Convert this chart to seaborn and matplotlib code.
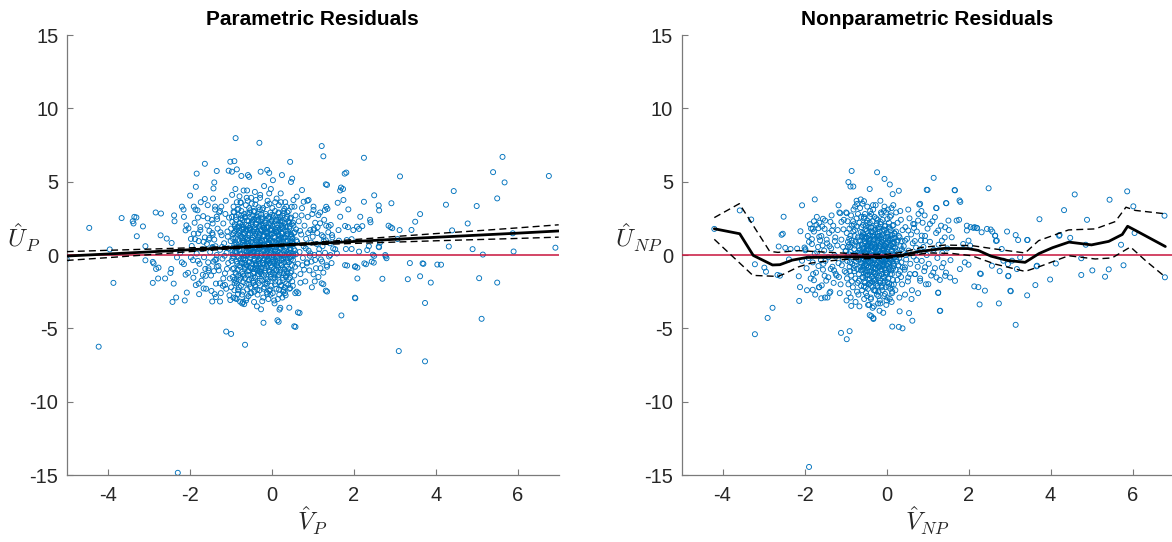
import matplotlib
matplotlib.use("Agg")
import matplotlib.pyplot as plt
import numpy as np
import pandas as pd
import seaborn as sns

sns.set_theme(style="white")
plt.rcParams["font.family"] = ["Liberation Sans", "DejaVu Sans"]
plt.rcParams["mathtext.fontset"] = "cm"
plt.rcParams["axes.unicode_minus"] = False

# ---------------- data: Parametric residuals (V_P, U_P) ----------------
p1_outer = [
    (-4.45, 1.85), (-5.0, -0.28), (-4.22, -6.25), (-3.95, 0.38), (-3.86, -1.9), (-3.66, 2.52), (-3.37, 2.15),
    (-3.35, 2.6), (-3.3, 2.56), (-3.39, 2.3), (-3.29, 1.28), (-3.14, 1.95), (-3.08, 0.6), (-3.08, -0.36),
    (-2.9, -0.47), (-2.88, -0.57), (-2.82, -0.95), (-2.76, -0.86), (-2.9, -1.9), (-2.83, 2.9), (-2.7, 2.83),
    (-2.71, 1.34), (-2.77, -1.6), (-2.6, -1.6), (-2.56, 1.12), (-2.44, 0.82), (-2.45, -0.95), (-2.47, -1.22),
    (-2.42, -3.2), (-2.33, -2.9), (-2.39, -1.95), (-2.31, -0.16), (-2.23, 0.15), (-2.38, 2.7), (-2.37, 2.3),
    (-2.12, -3.1), (-2.07, -2.56), (-2.19, 3.3), (-2.15, 3.1), (-2.14, 2.6), (-2.1, 1.68), (-2.1, -1.34),
    (-2.04, -1.22), (-2.19, -0.5), (-2.14, -0.62), (-1.99, 4.05), (-1.85, 4.65), (-1.83, 5.55), (-1.9, 3.3),
    (-1.86, 3.1), (-1.74, 1.7), (-1.79, 1.47), (-1.87, 1.08), (-2.03, 1.82), (-2.08, 2.02), (-1.97, -0.16),
    (-1.8, -0.4), (-1.78, -1.95), (-1.66, -2.28), (-1.77, -2.67), (-1.63, 6.22), (-1.63, 3.82), (-1.54, -1.05),
    (-1.61, -1.42), (-1.45, -3.17), (-1.39, -2.67), (-1.34, 5.73), (-1.4, 4.95), (-1.42, 4.54), (-1.38, 3.3),
    (-1.56, 2.5), (-1.34, 2.62), (-1.44, 2.15), (-1.26, 3.0), (-1.52, 1.16), (-1.44, 1.39), (-1.45, 0.48),
    (-1.38, -0.34), (-1.34, -0.8), (-1.26, -1.93), (-1.18, -1.6), (-1.14, -2.04), (-1.26, -3.17), (-1.36, -2.87),
    (-1.11, -5.22), (-0.99, -5.38), (-1.01, 6.36), (-0.91, 6.4), (-0.88, 7.97), (-0.97, 5.68), (-1.05, 5.75),
    (-0.65, -6.12), (-0.85, 5.84), (-0.74, 5.39), (-0.91, -2.4), (-0.77, -3.18), (-0.67, -3.35), (-1.01, -3.07),
    (-0.89, -2.95), (-0.58, 5.45), (-0.55, 5.33), (-0.3, 7.65), (-0.27, 5.68), (-0.2, -4.62), (-0.11, 5.8),
    (-0.06, 5.6), (0.03, 5.1), (0.17, -4.55), (0.25, 5.45), (0.45, 6.35), (0.47, 4.98), (0.5, 5.21),
    (0.58, -4.9), (0.68, -3.95), (0.19, -3.72), (0.21, -3.6), (-2.29, -14.85),
    (1.22, 7.43), (1.26, 6.73), (1.35, 4.78), (1.26, -1.99), (1.35, -2.49), (1.61, 3.56), (1.67, 4.4),
    (1.74, 4.5), (1.78, 5.55), (1.82, 5.62), (1.75, 3.75), (1.7, -4.12), (2.04, -2.95), (2.09, -1.6),
    (2.25, 6.63), (2.25, 3.63), (2.5, 4.07), (2.61, 3.38), (2.62, 3.04), (2.7, -1.62), (2.9, 1.9),
    (2.92, 3.53), (3.13, 5.36), (3.1, -6.55), (3.32, -1.65), (3.37, -0.55), (3.41, 1.71), (3.5, 2.27),
    (3.62, 2.79), (3.62, -1.45), (3.7, -0.6), (3.74, -3.27), (3.74, -7.25), (3.88, -1.88), (4.04, -0.65),
    (4.13, -0.66), (4.25, 3.43), (4.32, 0.58), (4.4, 1.68), (4.44, 4.36), (4.78, 2.15), (4.9, 0.4),
    (5.0, 3.34), (5.06, -1.58), (5.12, -4.35), (5.15, 0.03), (5.4, 5.65), (5.5, 3.86), (5.5, -1.88),
    (5.63, 6.69), (5.68, 4.95), (5.88, 1.48), (5.9, 0.24), (6.76, 5.39), (6.92, 0.5),
    (1.95, 0.41), (2.13, 1.78), (2.21, 1.97), (2.3, -0.63), (2.37, 0.6), (2.41, 2.23), (2.49, -0.52),
    (2.5, -0.06), (2.04, -0.77), (2.09, -0.86), (1.84, -0.72), (1.81, 0.41), (1.86, 1.9), (1.95, 1.08),
    (2.62, 0.53), (2.64, 0.84), (2.78, -0.1), (2.8, -0.22), (2.94, 1.83), (1.32, 4.82), (1.69, 4.6),
    (1.35, -0.8), (1.59, 0.11), (1.79, -0.69), (2.03, -0.8), (2.26, -0.57), (2.44, -0.45), (2.77, 0.0),
    (2.47, 0.02), (2.13, 0.23), (2.33, 0.34), (2.61, 0.57), (2.85, 2.0), (3.07, 1.09), (3.12, 1.7),
    (2.4, 2.4), (2.16, 2.61), (2.08, 1.93), (1.87, 3.11), (1.79, 1.98), (1.99, 1.7), (1.83, 1.02),
    (1.64, 0.98), (1.55, 0.39), (1.43, 0.0), (1.22, -1.93), (1.32, -2.43), (0.7, -1.89), (0.64, -3.91),
    (0.55, -4.86), (0.14, -4.45), (0.43, -3.59), (0.29, -2.39), (0.61, -2.5), (1.02, -1.32), (1.06, -0.34),
    (0.86, -0.57), (0.94, 0.11), (1.02, 1.7), (1.18, 2.16), (1.3, 3.07), (1.14, 2.72), (0.74, 4.43),
    (0.78, 3.63), (0.9, 3.75), (1.02, 3.07), (1.39, 1.93), (1.47, 1.36), (1.26, 1.25), (1.63, 1.7),
    (1.33, 3.29), (0.61, 3.98), (0.53, 3.75), (0.49, 3.29), (1.67, 2.61), (3.68, -0.57), (2.03, -2.91),
]

p1_core = [
    (-1.95, 0.62), (-1.92, -0.35), (-1.9, 1.45), (-1.88, 2.2), (-1.86, -1.1), (-1.83, 0.1), (-1.81, 3.05),
    (-1.78, 0.95), (-1.76, -0.6), (-1.74, 1.9), (-1.71, -1.75), (-1.69, 0.4), (-1.67, 2.65), (-1.65, -0.15),
    (-1.63, 1.2), (-1.6, -2.3), (-1.58, 0.75), (-1.56, 3.4), (-1.54, -0.9), (-1.52, 1.65), (-1.5, 0.2),
    (-1.48, -1.4), (-1.46, 2.4), (-1.44, 0.55), (-1.42, -0.45), (-1.4, 1.05), (-1.38, 3.1), (-1.36, -1.95),
    (-1.34, 0.0), (-1.32, 1.8), (-1.3, -0.75), (-1.28, 2.9), (-1.26, 0.35), (-1.24, -2.6), (-1.22, 1.35),
    (-1.2, -0.25), (-1.18, 2.15), (-1.16, 0.8), (-1.14, -1.25), (-1.12, 3.7), (-1.1, 0.15), (-1.08, 1.6),
    (-1.06, -0.55), (-1.04, 2.55), (-1.02, -1.6), (-1.0, 0.95), (-1.97, 1.1), (-1.85, -2.05), (-1.73, 3.6),
    (-1.62, -0.95), (-1.57, 2.0), (-1.47, -2.45), (-1.43, 3.85), (-1.37, 0.6), (-1.29, -1.05), (-1.25, 1.55),
    (-1.19, -2.1), (-1.13, 2.8), (-1.09, -0.95), (-1.05, 0.45), (-1.91, -1.55), (-1.8, 2.55), (-1.68, -1.35),
    (-1.53, 1.05), (-1.41, -1.1), (-1.33, 2.45), (-1.21, 0.55), (-1.11, -2.3), (-1.07, 1.25), (-1.66, 0.9),
    (-1.55, -0.5), (-1.45, 1.5), (-1.35, -0.3), (-1.23, 3.3), (-1.15, -0.05), (-1.03, -2.75),
    (-0.99, 1.8), (-0.98, -0.4), (-0.97, 2.6), (-0.96, 0.3), (-0.95, -1.5), (-0.94, 1.1), (-0.93, 3.3),
    (-0.92, -0.9), (-0.91, 0.7), (-0.9, 2.1), (-0.985, -2.2), (-0.965, 4.1), (-0.945, 0.05), (-0.925, 1.5),
    (-0.905, -1.9), (-0.955, -0.2), (-0.915, 2.9), (-0.935, -2.9),
    (-0.89, 0.9), (-0.88, -1.2), (-0.87, 2.4), (-0.86, 0.2), (-0.85, 3.6), (-0.84, -0.6), (-0.83, 1.4),
    (-0.82, -2.4), (-0.81, 0.55), (-0.8, 1.95), (-0.885, 4.5), (-0.865, -1.8), (-0.845, 1.0), (-0.825, -0.1),
    (-0.805, 2.75), (-0.875, 0.45), (-0.855, -3.0), (-0.835, 3.1), (-0.815, -1.4), (-0.895, 1.6),
    (-0.79, 0.35), (-0.78, 2.2), (-0.77, -0.8), (-0.76, 1.3), (-0.75, -2.1), (-0.74, 3.0), (-0.73, 0.1),
    (-0.72, 1.75), (-0.71, -1.3), (-0.7, 0.8), (-0.785, 4.0), (-0.765, -0.3), (-0.745, 2.5), (-0.725, -2.7),
    (-0.705, 1.15), (-0.795, -1.7), (-0.775, 0.6), (-0.755, 3.55), (-0.735, -0.55), (-0.715, 2.05),
    (-0.79, 1.5), (-0.72, -3.3),
    (-0.69, 1.9), (-0.68, -0.2), (-0.67, 2.8), (-0.66, 0.65), (-0.65, -1.6), (-0.64, 1.2), (-0.63, 3.4),
    (-0.62, -0.7), (-0.61, 0.25), (-0.6, 2.35), (-0.695, -2.5), (-0.675, 0.95), (-0.655, -0.95), (-0.635, 1.65),
    (-0.615, -1.95), (-0.685, 4.4), (-0.665, 0.0), (-0.645, 2.6), (-0.625, -3.1), (-0.605, 0.5), (-0.64, -0.35),
    (-0.69, 1.4), (-0.61, 3.9),
    (-0.59, 0.75), (-0.58, -1.1), (-0.57, 2.0), (-0.56, 0.3), (-0.55, 3.2), (-0.54, -0.45), (-0.53, 1.45),
    (-0.52, -2.2), (-0.51, 0.9), (-0.5, 2.5), (-0.595, -0.05), (-0.575, 1.15), (-0.555, -1.7), (-0.535, 2.9),
    (-0.515, 0.15), (-0.585, 3.7), (-0.565, -2.8), (-0.545, 0.6), (-0.525, 1.85), (-0.505, -0.85), (-0.58, 1.7),
    (-0.52, -1.35), (-0.56, 2.3), (-0.5, 0.4),
    (-0.49, 1.05), (-0.48, -0.6), (-0.47, 2.25), (-0.46, 0.2), (-0.45, -1.9), (-0.44, 1.6), (-0.43, 3.0),
    (-0.42, -0.25), (-0.41, 0.7), (-0.4, 1.9), (-0.495, -2.6), (-0.475, 0.45), (-0.455, 2.7), (-0.435, -1.15),
    (-0.415, 1.3), (-0.485, 3.5), (-0.465, -0.95), (-0.445, 0.05), (-0.425, 2.45), (-0.405, -1.55), (-0.47, 1.35),
    (-0.43, -3.2), (-0.41, 4.3), (-0.46, 0.85), (-0.44, -0.4),
    (-0.39, 0.55), (-0.38, 1.75), (-0.37, -0.75), (-0.36, 2.6), (-0.35, 0.15), (-0.34, -1.45), (-0.33, 1.2),
    (-0.32, 3.25), (-0.31, -0.3), (-0.3, 0.95), (-0.395, -2.15), (-0.375, 2.1), (-0.355, -0.05), (-0.335, 1.55),
    (-0.315, -1.9), (-0.385, 3.75), (-0.365, 0.4), (-0.345, -2.7), (-0.325, 2.35), (-0.305, -0.6), (-0.38, 1.0),
    (-0.34, 0.65), (-0.3, -1.1), (-0.36, -3.5), (-0.32, 2.8), (-0.33, -0.9),
    (-0.29, 1.45), (-0.28, -0.2), (-0.27, 2.3), (-0.26, 0.6), (-0.25, -1.3), (-0.24, 1.0), (-0.23, 3.1),
    (-0.22, -0.55), (-0.21, 0.3), (-0.2, 1.85), (-0.295, -2.4), (-0.275, 0.85), (-0.255, 2.75), (-0.235, -1.75),
    (-0.215, 1.3), (-0.285, 3.9), (-0.265, -0.85), (-0.245, 0.1), (-0.225, 2.05), (-0.205, -2.9), (-0.28, 0.45),
    (-0.24, 1.65), (-0.2, -0.35), (-0.26, -3.7), (-0.22, 2.55),
    (-0.19, 0.7), (-0.18, -0.9), (-0.17, 1.6), (-0.16, 0.05), (-0.15, 2.4), (-0.14, -1.6), (-0.13, 1.1),
    (-0.12, 3.4), (-0.11, -0.4), (-0.1, 0.4), (-0.195, 2.0), (-0.175, -2.2), (-0.155, 0.95), (-0.135, -0.15),
    (-0.115, 1.85), (-0.185, 4.7), (-0.165, -1.2), (-0.145, 2.8), (-0.125, 0.25), (-0.105, -2.65), (-0.18, 1.35),
    (-0.14, 0.6), (-0.1, 1.5), (-0.16, -0.6), (-0.12, -1.95),
    (-0.09, 1.25), (-0.08, -0.35), (-0.07, 2.15), (-0.06, 0.5), (-0.05, -1.05), (-0.04, 1.7), (-0.03, 2.9),
    (-0.02, -0.7), (-0.01, 0.15), (0.0, 1.4), (-0.095, -1.8), (-0.075, 0.8), (-0.055, 3.5), (-0.035, -2.35),
    (-0.015, 0.95), (-0.085, 2.5), (-0.065, -0.1), (-0.045, 1.0), (-0.025, -1.5), (-0.005, 2.3), (-0.08, -3.0),
    (-0.04, 0.35), (-0.06, 4.2), (-0.02, 1.8),
    (0.01, 0.6), (0.02, -1.2), (0.03, 1.95), (0.04, 0.0), (0.05, 2.7), (0.06, -0.55), (0.07, 1.2),
    (0.08, -2.0), (0.09, 0.35), (0.1, 1.6), (0.015, 3.2), (0.035, -0.3), (0.055, 0.9), (0.075, -1.55),
    (0.095, 2.3), (0.025, -2.6), (0.045, 1.5), (0.065, -0.95), (0.085, 3.6), (0.005, -0.1), (0.06, 0.55),
    (0.03, 2.55), (0.09, -0.45), (0.07, -3.3),
    (0.11, 0.8), (0.12, -0.6), (0.13, 2.05), (0.14, 0.25), (0.15, -1.4), (0.16, 1.35), (0.17, 2.9),
    (0.18, -0.2), (0.19, 0.55), (0.2, 1.75), (0.115, -2.3), (0.135, 0.95), (0.155, -0.85), (0.175, 3.4),
    (0.195, -1.85), (0.125, 1.6), (0.145, -0.05), (0.165, 2.4), (0.185, -2.7), (0.105, 0.1), (0.18, 1.1),
    (0.12, -1.05), (0.2, 2.6),
    (0.21, 0.45), (0.22, -1.0), (0.23, 1.5), (0.24, -0.25), (0.25, 2.3), (0.26, 0.9), (0.27, -1.7),
    (0.28, 1.1), (0.29, 3.0), (0.3, -0.5), (0.215, 2.05), (0.235, -2.1), (0.255, 0.1), (0.275, 1.85),
    (0.295, -1.25), (0.225, 3.6), (0.245, -0.7), (0.265, 0.65), (0.285, -2.5), (0.205, 1.3), (0.26, 2.7),
    (0.3, 0.3),
    (0.31, 1.2), (0.32, -0.15), (0.33, 2.2), (0.34, 0.5), (0.35, -1.5), (0.36, 1.65), (0.37, -0.75),
    (0.38, 2.6), (0.39, 0.2), (0.4, -2.05), (0.315, -1.0), (0.335, 0.95), (0.355, 3.3), (0.375, -0.35),
    (0.395, 1.45), (0.325, -2.6), (0.345, 1.9), (0.365, 0.05), (0.385, -1.25), (0.305, 2.85),
    (0.41, 0.7), (0.42, -0.5), (0.43, 1.8), (0.44, 0.15), (0.45, 2.5), (0.46, -1.2), (0.47, 1.0),
    (0.48, -0.1), (0.49, 2.1), (0.5, -1.8), (0.415, 3.0), (0.435, -2.3), (0.455, 0.45), (0.475, 1.4),
    (0.495, -0.7), (0.425, 2.2), (0.465, -0.3), (0.485, 0.85), (0.445, -1.55),
    (0.51, 1.15), (0.52, -0.35), (0.53, 2.0), (0.54, 0.4), (0.55, -1.4), (0.56, 1.55), (0.57, -0.8),
    (0.58, 2.7), (0.59, 0.05), (0.6, 1.0), (0.515, -2.1), (0.535, 0.75), (0.555, 3.3), (0.575, -2.6),
    (0.595, 1.75), (0.525, -0.05), (0.565, 0.3),
    (0.62, 0.9), (0.64, -0.6), (0.66, 2.3), (0.68, 0.2), (0.7, -1.3), (0.72, 1.4), (0.74, 3.2),
    (0.76, -0.2), (0.78, 0.6), (0.8, 2.0), (0.82, -1.8), (0.84, 1.1), (0.86, -0.5), (0.88, 2.6),
    (0.9, 0.3), (0.92, -1.05), (0.94, 1.7), (0.96, 0.85), (0.98, -2.2), (1.0, 1.25), (1.02, 3.3),
    (1.04, 0.0), (1.06, 2.2), (1.08, -0.9), (1.1, 0.75), (1.12, 1.9), (1.14, -1.5), (1.16, 0.4),
    (1.18, 2.9), (1.2, -0.3), (1.22, 1.35), (1.24, 0.6), (1.26, -1.2), (1.28, 2.4), (1.3, 0.15),
    (1.32, 1.0), (1.34, -0.7), (1.36, 3.15), (1.38, 1.55), (1.4, -0.1), (1.42, 0.8), (1.44, 2.05),
    (1.46, -0.55), (1.48, 1.2), (1.5, 0.45), (0.65, -2.6), (0.73, 2.7), (0.79, -1.0), (0.87, 3.7),
    (0.93, -0.05), (0.99, 2.8), (1.05, -1.8), (1.11, 1.5), (1.19, -0.9), (1.27, 0.95), (1.33, 2.0),
    (0.69, 1.65), (0.75, -0.7), (0.83, 0.45), (0.89, 1.5), (0.97, -0.45), (1.03, 1.8), (1.15, 0.1),
    (1.23, -0.45),
]

p1_dense = [
    (-0.93, 2.95), (-0.81, 3.15), (-0.66, 2.55), (-0.52, 3.05), (-0.37, 2.7), (-0.21, 3.2), (-0.06, 2.6),
    (0.08, 3.0), (0.22, 2.5), (0.38, 2.9), (-0.74, 2.7), (-0.44, 2.95), (-0.14, 2.65), (0.16, 2.85),
    (0.47, 2.55), (-0.59, 2.85), (-0.29, 3.1), (0.01, 2.75), (0.31, 3.15), (-0.87, 2.6),
    (-0.96, 2.25), (-0.84, 1.9), (-0.71, 2.4), (-0.63, 2.05), (-0.55, 1.85), (-0.47, 2.35), (-0.39, 2.15),
    (-0.31, 1.95), (-0.23, 2.45), (-0.16, 2.2), (-0.08, 1.9), (0.0, 2.35), (0.07, 2.1), (0.14, 1.85),
    (0.21, 2.3), (0.28, 2.0), (0.36, 2.45), (0.44, 1.95), (0.52, 2.2), (-0.77, 2.15), (-0.68, 1.8),
    (-0.5, 2.1), (-0.35, 2.4), (-0.19, 1.85), (-0.02, 2.15), (0.11, 2.4), (0.25, 1.9), (0.4, 2.3),
    (-0.9, 1.95), (-0.26, 2.05),
    (-0.95, 1.4), (-0.88, 1.15), (-0.8, 1.65), (-0.73, 1.25), (-0.66, 1.5), (-0.6, 1.05), (-0.53, 1.7),
    (-0.46, 1.2), (-0.4, 1.45), (-0.33, 1.05), (-0.27, 1.7), (-0.2, 1.25), (-0.13, 1.5), (-0.07, 1.1),
    (0.0, 1.7), (0.06, 1.3), (0.12, 1.55), (0.19, 1.05), (0.26, 1.45), (0.33, 1.2), (0.4, 1.6),
    (0.47, 1.25), (0.54, 1.5), (-0.85, 1.75), (-0.7, 1.0), (-0.57, 1.35), (-0.43, 1.75), (-0.3, 1.35),
    (-0.17, 1.75), (-0.03, 1.45), (0.09, 1.75), (0.23, 1.2), (0.37, 1.4), (0.5, 1.1), (-0.62, 1.75),
    (-0.36, 1.6), (-0.1, 1.3), (0.16, 1.65),
    (-0.94, 0.5), (-0.86, 0.75), (-0.78, 0.3), (-0.71, 0.85), (-0.64, 0.45), (-0.57, 0.95), (-0.5, 0.6),
    (-0.44, 0.25), (-0.37, 0.85), (-0.3, 0.5), (-0.24, 0.95), (-0.18, 0.3), (-0.11, 0.75), (-0.05, 0.55),
    (0.02, 0.9), (0.08, 0.25), (0.15, 0.7), (0.22, 0.45), (0.29, 0.85), (0.36, 0.3), (0.43, 0.65),
    (0.5, 0.9), (-0.82, 0.55), (-0.67, 0.7), (-0.53, 0.35), (-0.4, 0.5), (-0.27, 0.7), (-0.14, 0.45),
    (-0.01, 0.3), (0.12, 0.55), (0.26, 0.65), (0.39, 0.95), (-0.9, 0.25), (-0.61, 0.25), (-0.34, 0.3),
    (-0.08, 0.85), (0.19, 0.85), (0.46, 0.35),
    (-0.93, -0.1), (-0.85, -0.45), (-0.77, 0.1), (-0.7, -0.3), (-0.63, -0.05), (-0.56, -0.5), (-0.49, 0.0),
    (-0.42, -0.35), (-0.36, 0.1), (-0.29, -0.2), (-0.22, -0.55), (-0.15, 0.0), (-0.09, -0.3), (-0.03, 0.1),
    (0.04, -0.45), (0.1, -0.1), (0.17, 0.15), (0.24, -0.35), (0.31, 0.0), (0.38, -0.5), (0.45, -0.15),
    (0.52, 0.1), (-0.8, -0.2), (-0.66, -0.55), (-0.52, -0.2), (-0.39, -0.55), (-0.25, -0.05), (-0.12, -0.5),
    (0.01, -0.15), (0.14, -0.5), (0.28, -0.25), (0.42, 0.05), (-0.59, 0.05), (-0.32, -0.4), (-0.05, -0.55),
    (0.21, 0.05),
    (-0.95, -0.95), (-0.87, -1.3), (-0.79, -0.7), (-0.72, -1.15), (-0.65, -0.8), (-0.58, -1.35), (-0.51, -0.9),
    (-0.45, -1.25), (-0.38, -0.65), (-0.32, -1.3), (-0.25, -0.95), (-0.19, -1.4), (-0.12, -0.75), (-0.06, -1.15),
    (0.0, -0.85), (0.07, -1.35), (0.13, -0.7), (0.2, -1.2), (0.27, -0.85), (0.34, -1.4), (0.41, -0.95),
    (0.48, -1.1), (-0.83, -1.0), (-0.68, -1.4), (-0.55, -1.05), (-0.41, -0.95), (-0.28, -1.15), (-0.15, -1.05),
    (-0.02, -1.3), (0.11, -1.0), (0.24, -0.65), (0.37, -1.15), (-0.62, -0.65), (-0.35, -1.05), (-0.09, -0.65),
    (0.18, -1.35),
    (-0.91, -1.7), (-0.8, -2.2), (-0.69, -1.85), (-0.6, -2.35), (-0.49, -1.6), (-0.4, -2.05), (-0.29, -1.75),
    (-0.2, -2.3), (-0.1, -1.65), (-0.01, -2.1), (0.09, -1.8), (0.18, -2.35), (0.27, -1.55), (0.36, -1.95),
    (0.45, -2.25), (-0.75, -1.55), (-0.55, -2.0), (-0.35, -2.35), (-0.16, -1.95), (0.04, -1.6), (0.23, -2.05),
    (0.42, -1.65), (-0.85, -1.95), (-0.45, -1.75), (-0.06, -2.45), (0.32, -2.2),
    (-0.82, -2.65), (-0.61, -2.95), (-0.42, -2.5), (-0.23, -3.15), (-0.03, -2.7), (0.15, -3.0), (0.34, -2.75),
    (-0.7, -3.2), (-0.52, -2.6), (-0.12, -2.55), (0.06, -3.1), (0.26, -2.9),
    (-0.76, 3.6), (-0.5, 3.9), (-0.28, 4.1), (-0.1, 3.7), (0.12, 3.85), (0.33, 3.6), (-0.6, 4.4),
    (-0.02, 4.5), (-0.4, 3.45), (0.22, 4.2),
]

# parametric fit and confidence band
p1_line_x = [-5, -4, -3, -2, -1, 0, 1, 2, 3, 4, 5, 6, 7]
p1_fit = [-0.07, 0.07, 0.21, 0.36, 0.50, 0.64, 0.78, 0.92, 1.07, 1.21, 1.35, 1.49, 1.64]
p1_upper = [0.23, 0.32, 0.40, 0.49, 0.58, 0.69, 0.86, 1.05, 1.26, 1.46, 1.65, 1.85, 2.06]
p1_lower = [-0.37, -0.18, 0.02, 0.23, 0.42, 0.59, 0.70, 0.79, 0.88, 0.97, 1.05, 1.13, 1.22]

# ---------------- data: Nonparametric residuals (V_NP, U_NP) ----------------
p2_outer = [
    (-4.2, 1.78), (-3.58, 3.04), (-3.3, 2.42), (-3.21, -0.63), (-3.21, -5.4), (-2.98, -0.86), (-2.94, -1.14),
    (-2.9, -4.29), (-2.78, -3.6), (-2.63, 0.58), (-2.56, 1.38), (-2.53, 1.45), (-2.51, 2.61), (-2.66, -1.36),
    (-2.6, -1.41), (-2.47, 0.49), (-2.38, -0.3), (-2.34, 0.41), (-2.18, 0.44), (-2.14, -1.45), (-2.11, -2.19),
    (-2.13, -3.13), (-2.06, 3.39), (-2.1, 1.62), (-2.06, -0.39), (-2.0, 0.51), (-1.98, 0.32), (-1.89, -14.45),
    (-1.8, -2.37), (-1.77, -1.72), (-1.75, 3.79), (-1.77, 2.3), (-1.8, 1.78), (-1.82, 1.08), (-1.71, 2.06),
    (-1.66, 1.83), (-1.64, 1.24), (-1.64, -2.19), (-1.58, -2.07), (-1.59, -2.95), (-1.55, 2.47), (-1.51, 1.78),
    (-1.51, -1.41), (-1.42, -1.52), (-1.5, -2.9), (-1.39, -2.59), (-1.37, 2.26), (-1.33, 1.67), (-1.28, -1.05),
    (-1.24, -1.28), (-1.17, 3.39), (-1.13, 2.85), (-1.1, 2.26), (-1.11, -5.31), (-0.97, -5.74), (-0.9, -5.19),
    (-0.93, 4.97), (-0.88, 4.67), (-0.81, 4.67), (-0.85, 5.73), (-0.86, -3.47), (-0.97, 2.85), (-0.72, 3.48),
    (-0.63, 3.79), (-0.55, 3.67), (-0.41, 4.5), (-0.23, 5.64), (-0.05, 5.19), (0.08, 4.81), (0.15, 4.15),
    (0.3, 4.38), (-0.37, -4.17), (-0.32, -4.36), (-0.08, -3.94), (0.14, -4.88), (0.3, -4.9), (0.39, -5.0),
    (0.32, -3.84), (0.55, -3.96), (0.63, -4.48), (0.8, 3.44), (1.0, 4.43), (1.15, 5.26), (1.22, 3.2),
    (1.31, -3.8), (1.26, -2.59), (1.46, 3.53), (1.66, 4.43), (1.78, 3.72), (1.8, 3.62), (2.05, 1.9),
    (1.96, 2.0), (2.15, 1.9), (2.21, 1.83), (2.14, -2.14), (2.24, -2.19), (2.27, -3.37), (2.3, -1.29),
    (2.4, -2.43), (2.49, 4.55), (2.54, 1.74), (2.58, 1.6), (2.65, 1.31), (2.67, 0.96), (2.76, -1.1),
    (2.74, -3.3), (2.94, 1.6), (3.03, -2.47), (2.97, -1.45), (3.15, 1.36), (3.21, 1.02), (3.15, -4.76),
    (3.43, -2.75), (3.43, 1.02), (3.63, -2.05), (3.66, -0.77), (3.73, 2.44), (3.99, -1.67), (4.13, -0.58),
    (4.21, 1.31), (4.33, 3.06), (4.59, 4.13), (4.48, 1.17), (4.75, -0.22), (4.75, -1.36), (4.89, 2.4),
    (4.86, 0.7), (5.02, -1.05), (5.33, -1.48), (5.42, -0.98), (5.44, 3.77), (5.72, 0.7), (5.78, -0.7),
    (5.87, 4.34), (6.02, 3.32), (6.05, 1.5), (6.78, 2.68), (6.79, -1.52),
    (0.45, 0.98), (0.53, 1.67), (0.65, 2.12), (0.77, 2.35), (0.86, 1.32), (0.94, 0.98), (1.06, 2.12),
    (1.18, 2.58), (1.26, 1.67), (1.35, 0.98), (1.43, 1.89), (1.51, 2.35), (1.59, 1.21), (1.71, 2.35),
    (1.77, 2.4), (1.96, 1.67), (2.0, 0.98), (1.87, 0.75), (2.04, 0.64), (2.12, 1.85), (2.2, 1.85),
    (2.32, 1.55), (2.45, 1.78), (2.65, 1.32), (2.69, 0.98), (2.81, 0.41), (2.85, -0.39), (2.96, -0.62),
    (3.06, -0.39), (0.98, 4.45), (1.67, 4.41), (1.45, 3.54), (0.82, 3.49), (1.21, 3.2),
    (0.45, -0.84), (0.53, -1.53), (0.69, -1.3), (0.82, -1.76), (0.94, -0.84), (1.02, -1.99), (1.14, -1.19),
    (1.22, -1.53), (1.26, -2.56), (1.3, -3.81), (1.35, -0.84), (1.43, -1.42), (1.55, -1.53), (1.67, -1.76),
    (1.79, -0.96), (1.91, -0.5), (2.0, -0.66), (2.28, -1.26), (2.57, -0.73), (2.97, -1.42), (3.02, -2.44),
    (3.18, -0.96), (3.26, -0.16), (3.44, 1.03), (3.67, -0.73), (4.22, 1.37),
]

p2_core = [
    (-1.98, 0.4), (-1.95, -0.9), (-1.92, 1.3), (-1.9, -0.2), (-1.87, 2.1), (-1.85, -1.6), (-1.82, 0.75),
    (-1.8, -0.5), (-1.77, 1.6), (-1.75, 0.1), (-1.72, -1.2), (-1.7, 2.6), (-1.67, 0.55), (-1.65, -2.2),
    (-1.62, 1.0), (-1.6, -0.35), (-1.57, 1.95), (-1.55, -1.0), (-1.52, 0.3), (-1.5, 2.35), (-1.47, -1.75),
    (-1.45, 0.8), (-1.42, -0.15), (-1.4, 1.5), (-1.37, -2.5), (-1.35, 0.45), (-1.32, -0.8), (-1.3, 2.0),
    (-1.27, 0.0), (-1.25, 1.2), (-1.22, -1.4), (-1.2, 0.65), (-1.17, -0.55), (-1.15, 2.9), (-1.12, -2.0),
    (-1.1, 1.05), (-1.07, -0.3), (-1.05, 1.75), (-1.02, -1.1), (-1.0, 0.25), (-1.94, -2.4), (-1.84, 1.8),
    (-1.74, -2.7), (-1.64, 2.2), (-1.54, -0.6), (-1.44, -2.9), (-1.34, 2.7), (-1.24, -0.1), (-1.14, -2.6),
    (-1.04, 2.4), (-1.89, 0.9), (-1.79, -1.3), (-1.69, 0.2), (-1.59, 1.3), (-1.49, -0.4), (-1.39, 0.6),
    (-1.29, -1.9), (-1.19, 1.7), (-1.09, -0.7), (-1.06, 0.55), (-1.16, -1.5), (-1.26, 0.95), (-1.36, -0.95),
    (-1.46, 1.05), (-1.56, 0.65), (-1.66, -0.75),
    (-0.99, 0.3), (-0.98, -1.2), (-0.97, 1.5), (-0.96, -0.4), (-0.95, 2.3), (-0.94, 0.9), (-0.93, -2.0),
    (-0.92, 0.05), (-0.91, 1.1), (-0.9, -0.8), (-0.985, 2.9), (-0.965, -1.6), (-0.945, 0.55), (-0.925, -2.6),
    (-0.905, 1.8), (-0.955, -0.1), (-0.915, 0.7), (-0.975, -3.1),
    (-0.89, -0.5), (-0.88, 1.3), (-0.87, 0.2), (-0.86, -1.4), (-0.85, 2.0), (-0.84, -0.15), (-0.83, 0.8),
    (-0.82, -2.2), (-0.81, 1.6), (-0.8, -0.9), (-0.885, 0.55), (-0.865, 2.7), (-0.845, -1.8), (-0.825, 0.0),
    (-0.805, 3.1), (-0.875, -2.9), (-0.855, 1.0), (-0.835, -0.6), (-0.815, 2.3), (-0.895, -1.1),
    (-0.79, 0.4), (-0.78, -0.7), (-0.77, 1.7), (-0.76, -1.6), (-0.75, 0.9), (-0.74, -0.2), (-0.73, 2.5),
    (-0.72, -2.5), (-0.71, 0.15), (-0.7, 1.2), (-0.785, -1.1), (-0.765, 3.3), (-0.745, -0.45), (-0.725, 1.95),
    (-0.705, -1.9), (-0.795, 2.1), (-0.775, 0.65), (-0.755, -3.2), (-0.735, 0.0), (-0.715, -0.95), (-0.73, 3.7),
    (-0.78, 1.3),
    (-0.69, -0.3), (-0.68, 1.0), (-0.67, -1.3), (-0.66, 2.2), (-0.65, 0.35), (-0.64, -0.8), (-0.63, 1.55),
    (-0.62, -2.1), (-0.61, 0.7), (-0.6, -0.05), (-0.695, 2.8), (-0.675, -1.75), (-0.655, 0.95), (-0.635, -0.5),
    (-0.615, 1.9), (-0.685, -2.7), (-0.665, 0.15), (-0.645, 3.2), (-0.625, -1.05), (-0.605, 1.3), (-0.66, -3.5),
    (-0.62, 2.6), (-0.68, 0.6),
    (-0.59, 0.5), (-0.58, -1.0), (-0.57, 1.4), (-0.56, -0.25), (-0.55, 2.5), (-0.54, -1.8), (-0.53, 0.8),
    (-0.52, -0.6), (-0.51, 1.75), (-0.5, 0.1), (-0.595, -2.4), (-0.575, 2.05), (-0.555, -0.75), (-0.535, 1.1),
    (-0.515, -1.4), (-0.585, 3.5), (-0.565, 0.3), (-0.545, -3.0), (-0.525, 2.8), (-0.505, -0.35), (-0.57, -1.55),
    (-0.53, 0.2), (-0.51, -2.2), (-0.59, 1.25),
    (-0.49, -0.15), (-0.48, 1.2), (-0.47, -1.1), (-0.46, 0.6), (-0.45, -2.3), (-0.44, 1.9), (-0.43, -0.5),
    (-0.42, 0.95), (-0.41, -1.6), (-0.4, 2.6), (-0.495, 0.3), (-0.475, -2.8), (-0.455, 1.5), (-0.435, -0.85),
    (-0.415, 0.05), (-0.485, 2.2), (-0.465, -1.35), (-0.445, 0.75), (-0.425, -3.4), (-0.405, 1.35), (-0.47, 3.3),
    (-0.43, -2.0), (-0.49, -0.7), (-0.41, -4.1), (-0.44, 0.4),
    (-0.39, 0.8), (-0.38, -0.4), (-0.37, 1.6), (-0.36, -1.5), (-0.35, 0.2), (-0.34, 2.3), (-0.33, -0.9),
    (-0.32, 1.05), (-0.31, -2.4), (-0.3, 0.45), (-0.395, -1.9), (-0.375, 2.8), (-0.355, -0.2), (-0.335, 1.3),
    (-0.315, -1.2), (-0.385, -2.9), (-0.365, 0.6), (-0.345, -0.65), (-0.325, 3.1), (-0.305, -1.75), (-0.38, 1.9),
    (-0.34, -3.6), (-0.36, -0.05), (-0.32, -4.3), (-0.3, 1.7), (-0.37, -1.05),
    (-0.29, -0.3), (-0.28, 1.1), (-0.27, -1.2), (-0.26, 0.5), (-0.25, 2.0), (-0.24, -0.7), (-0.23, 0.85),
    (-0.22, -2.1), (-0.21, 1.45), (-0.2, -0.1), (-0.295, 2.6), (-0.275, -1.7), (-0.255, 0.2), (-0.235, -2.7),
    (-0.215, 1.8), (-0.285, -0.55), (-0.265, 3.4), (-0.245, -1.4), (-0.225, 0.35), (-0.205, -3.3), (-0.28, -2.4),
    (-0.24, 1.25), (-0.26, -0.95), (-0.22, 2.4), (-0.2, -1.55), (-0.29, 0.7),
    (-0.19, 0.6), (-0.18, -0.85), (-0.17, 1.3), (-0.16, -1.9), (-0.15, 0.1), (-0.14, 2.1), (-0.13, -0.4),
    (-0.12, 0.9), (-0.11, -1.3), (-0.1, 1.6), (-0.195, -2.5), (-0.175, 0.3), (-0.155, -0.6), (-0.135, 2.9),
    (-0.115, -2.1), (-0.185, 1.9), (-0.165, -3.1), (-0.145, 0.75), (-0.125, -1.0), (-0.105, 0.0), (-0.17, -3.8),
    (-0.13, 1.2), (-0.15, 3.7), (-0.11, -0.25),
    (-0.09, -0.45), (-0.08, 1.0), (-0.07, -1.5), (-0.06, 0.35), (-0.05, 1.7), (-0.04, -0.9), (-0.03, 0.6),
    (-0.02, -2.2), (-0.01, 1.25), (0.0, -0.15), (-0.095, 2.4), (-0.075, -0.6), (-0.055, -2.8), (-0.035, 2.0),
    (-0.015, -1.2), (-0.085, 0.15), (-0.065, 3.0), (-0.045, -1.75), (-0.025, 0.8), (-0.005, -3.4), (-0.07, 0.45),
    (-0.03, -0.35), (-0.01, 2.9),
    (0.01, 0.4), (0.02, -0.75), (0.03, 1.4), (0.04, -1.6), (0.05, 0.05), (0.06, 2.2), (0.07, -0.5),
    (0.08, 1.0), (0.09, -2.3), (0.1, 0.7), (0.015, -1.2), (0.035, 3.1), (0.055, -0.95), (0.075, 1.8),
    (0.095, -0.2), (0.025, -2.9), (0.045, 0.85), (0.065, -1.95), (0.085, 2.6), (0.005, -0.3),
    (0.11, -0.4), (0.12, 1.1), (0.13, -1.3), (0.14, 0.3), (0.15, 2.0), (0.16, -0.9), (0.17, 0.75),
    (0.18, -2.0), (0.19, 1.5), (0.2, -0.15), (0.115, 2.7), (0.135, -2.6), (0.155, 0.55), (0.175, -0.6),
    (0.195, 1.15), (0.125, -3.2), (0.165, 3.4), (0.185, 0.0),
    (0.21, 0.5), (0.22, -1.0), (0.23, 1.6), (0.24, -0.3), (0.25, 0.9), (0.26, -1.7), (0.27, 2.2),
    (0.28, 0.1), (0.29, -0.7), (0.3, 1.3), (0.215, -2.4), (0.235, 2.9), (0.255, -0.45), (0.275, 1.0),
    (0.295, -1.3), (0.225, 0.25),
    (0.31, -0.2), (0.32, 1.2), (0.33, -1.1), (0.34, 0.6), (0.35, 2.4), (0.36, -0.5), (0.37, 0.95),
    (0.38, -2.0), (0.39, 1.7), (0.4, 0.2), (0.315, -2.9), (0.335, 3.0), (0.355, -1.5), (0.375, 0.4),
    (0.395, -0.85),
    (0.42, 0.6), (0.44, -1.0), (0.46, 1.9), (0.48, -0.3), (0.5, 1.1), (0.52, -1.8), (0.54, 0.3),
    (0.56, 2.5), (0.58, -0.6), (0.6, 1.4), (0.62, -2.4), (0.64, 0.8), (0.66, -0.1), (0.68, 2.1),
    (0.7, -1.3), (0.72, 0.5), (0.74, 1.6), (0.76, -0.8), (0.78, 2.8), (0.8, 0.2), (0.82, -1.6),
    (0.84, 1.0), (0.86, -0.4), (0.88, 2.2), (0.9, 0.55), (0.92, -1.1), (0.94, 1.3), (0.96, -2.0),
    (0.98, 0.0), (1.0, 1.8), (1.03, -0.6), (1.06, 0.9), (1.09, -1.4), (1.12, 2.3), (1.15, 0.35),
    (1.18, -0.9), (1.21, 1.5), (1.24, -0.2), (1.27, 0.7), (1.3, -1.7), (1.33, 2.0), (1.36, 0.15),
    (1.39, -0.55), (1.42, 1.2), (1.45, -1.2), (1.48, 0.45), (1.52, 1.7), (1.56, -0.35), (0.45, -2.7),
    (0.53, 3.1), (0.61, -3.0), (0.69, 0.95), (0.77, -2.6), (0.85, 3.0), (0.47, 0.0), (0.57, -1.3),
    (0.67, 1.85), (0.73, -0.35), (0.83, 0.4), (0.93, 2.7),
]

p2_dense = [
    (-0.58, 1.5), (-0.51, 2.0), (-0.44, 1.3), (-0.37, 1.85), (-0.3, 1.25), (-0.24, 2.15), (-0.17, 1.6),
    (-0.11, 1.35), (-0.04, 1.95), (0.03, 1.25), (0.1, 1.7), (0.17, 2.05), (-0.54, 1.2), (-0.41, 2.2),
    (-0.27, 1.75), (-0.14, 2.25), (0.0, 1.5), (0.13, 1.35), (-0.48, 1.65), (-0.2, 1.3), (0.06, 1.9),
    (-0.33, 1.55), (-0.07, 1.75), (0.2, 1.45),
    (-0.6, 0.7), (-0.53, 0.95), (-0.47, 0.5), (-0.4, 1.1), (-0.34, 0.75), (-0.28, 0.45), (-0.22, 1.0),
    (-0.16, 0.6), (-0.1, 0.85), (-0.03, 0.45), (0.04, 1.05), (0.11, 0.65), (0.18, 0.9), (-0.56, 0.45),
    (-0.43, 0.85), (-0.31, 1.05), (-0.19, 0.8), (-0.06, 0.65), (0.07, 0.5), (0.15, 1.15), (-0.5, 1.15),
    (-0.25, 0.6), (0.01, 0.85), (-0.37, 0.55), (-0.13, 1.1), (0.2, 0.5), (-0.45, 0.7), (-0.08, 0.4),
    (-0.62, 0.1), (-0.55, -0.25), (-0.49, 0.3), (-0.42, -0.1), (-0.36, 0.2), (-0.29, -0.35), (-0.23, 0.05),
    (-0.17, -0.2), (-0.1, 0.3), (-0.04, -0.05), (0.02, 0.2), (0.09, -0.3), (0.16, 0.1), (-0.58, -0.4),
    (-0.46, -0.3), (-0.33, 0.35), (-0.2, 0.25), (-0.07, -0.35), (0.05, 0.0), (0.13, 0.3), (-0.52, 0.15),
    (-0.39, -0.15), (-0.26, -0.1), (-0.14, 0.1), (-0.01, -0.25), (0.19, -0.1), (-0.31, 0.0), (-0.44, 0.35),
    (-0.61, -0.6), (-0.54, -1.0), (-0.48, -0.7), (-0.41, -1.15), (-0.35, -0.55), (-0.28, -0.9), (-0.22, -0.5),
    (-0.15, -1.1), (-0.09, -0.75), (-0.02, -1.0), (0.05, -0.6), (0.12, -1.05), (0.18, -0.75), (-0.57, -0.85),
    (-0.44, -0.5), (-0.32, -1.15), (-0.19, -0.8), (-0.06, -0.5), (0.08, -0.85), (-0.5, -1.2), (-0.25, -0.65),
    (0.0, -0.7), (-0.38, -0.8), (-0.12, -0.95), (0.15, -0.45),
    (-0.59, -1.5), (-0.52, -1.9), (-0.45, -1.35), (-0.38, -2.1), (-0.32, -1.6), (-0.25, -1.95), (-0.18, -1.4),
    (-0.12, -2.2), (-0.05, -1.55), (0.02, -1.85), (0.09, -1.3), (0.16, -1.7), (-0.55, -2.15), (-0.42, -1.7),
    (-0.28, -1.3), (-0.15, -1.75), (-0.02, -1.35), (0.12, -2.05), (-0.35, -1.85), (-0.08, -1.9), (-0.22, -2.1),
    (0.05, -2.15),
    (-0.5, -2.6), (-0.38, -3.0), (-0.27, -2.45), (-0.15, -3.3), (-0.04, -2.65), (0.08, -3.0), (-0.45, -3.4),
    (-0.2, -2.8), (0.0, -3.1), (-0.31, -3.5), (-0.1, -2.4), (0.14, -2.5),
    (-0.55, 2.6), (-0.4, 3.0), (-0.25, 2.5), (-0.12, 2.8), (0.02, 2.45), (0.12, 3.2), (-0.33, 3.4),
    (-0.05, 3.3), (-0.47, 2.35),
]

# nonparametric fit and band
p2_fit_x = [-4.2, -3.58, -3.25, -2.78, -2.6, -2.3, -1.95, -1.5, -1.0, -0.5, 0.0, 0.4, 0.8, 1.4, 1.98,
            2.24, 2.55, 2.95, 3.38, 3.72, 4.05, 4.45, 5.0, 5.42, 5.75, 5.88, 6.07, 6.8]
p2_fit_y = [1.79, 1.45, -0.03, -0.68, -0.66, -0.35, -0.17, -0.15, -0.13, -0.12, -0.12, 0.0, 0.24, 0.45, 0.44,
            0.31, -0.08, -0.37, -0.5, 0.1, 0.5, 0.88, 0.69, 0.93, 1.4, 1.96, 1.68, 0.58]
p2_up_x = [-4.2, -3.59, -2.85, -2.65, -2.16, -1.5, -1.0, -0.5, 0.0, 0.37, 0.86, 1.43, 2.08, 2.65, 3.38,
           3.71, 4.44, 5.09, 5.58, 5.84, 6.07, 6.8]
p2_up_y = [2.55, 3.5, 0.25, 0.18, 0.3, 0.2, 0.12, 0.05, 0.05, 0.18, 0.52, 0.68, 0.64, 0.41, 0.14,
           0.98, 1.71, 1.78, 2.28, 3.26, 3.04, 2.81]
p2_lo_x = [-4.2, -3.26, -2.65, -2.49, -2.16, -1.84, -1.51, -1.0, -0.5, 0.0, 0.37, 1.02, 1.59, 2.08, 2.65,
           3.38, 3.79, 4.44, 5.09, 5.5, 5.95, 6.32, 6.8]
p2_lo_y = [1.07, -1.39, -1.46, -1.28, -0.82, -0.55, -0.43, -0.3, -0.25, -0.22, -0.11, 0.14, 0.11, -0.05, -0.62,
           -1.12, -0.73, -0.05, -0.27, -0.2, 0.55, -0.39, -1.5]

titles = ["Parametric Residuals", "Nonparametric Residuals"]
ylabels = [r"$\hat{U}_P$", r"$\hat{U}_{NP}$"]
xlabels = [r"$\hat{V}_P$", r"$\hat{V}_{NP}$"]
x_ticks = [-4, -2, 0, 2, 4, 6]
y_ticks = [-15, -10, -5, 0, 5, 10, 15]

BLUE = "#0072BD"
RED = "#C8143C"
AXC = "#7a7a7a"
TXT = "#262626"

fig = plt.figure(figsize=(11.72, 5.42), dpi=100)
ax1 = fig.add_axes([0.0569, 0.1236, 0.4198, 0.8118])
ax2 = fig.add_axes([0.5815, 0.1236, 0.4198, 0.8118])


def scatter(ax, pts):
    df = pd.DataFrame(pts, columns=["v", "u"])
    sns.scatterplot(data=df, x="v", y="u", ax=ax, marker="o", s=13, color=BLUE,
                    linewidth=0.65, legend=False, zorder=2)
    coll = ax.collections[-1]
    coll.set_facecolor("none")
    coll.set_edgecolor(BLUE)


def line(ax, xs, ys, **kw):
    df = pd.DataFrame({"x": xs, "y": ys})
    sns.lineplot(data=df, x="x", y="y", ax=ax, sort=False, estimator=None, legend=False, **kw)


# panel 1
scatter(ax1, p1_outer + p1_core + p1_dense)
ax1.axhline(0, color=RED, lw=1.1, zorder=3)
line(ax1, p1_line_x, p1_upper, color="black", lw=1.0, linestyle=(0, (5, 3)), zorder=4)
line(ax1, p1_line_x, p1_lower, color="black", lw=1.0, linestyle=(0, (5, 3)), zorder=4)
line(ax1, p1_line_x, p1_fit, color="black", lw=2.0, zorder=5)

# panel 2
scatter(ax2, p2_outer + p2_core + p2_dense)
ax2.axhline(0, color=RED, lw=1.1, zorder=3)
line(ax2, p2_up_x, p2_up_y, color="black", lw=1.0, linestyle=(0, (5, 3)), zorder=4)
line(ax2, p2_lo_x, p2_lo_y, color="black", lw=1.0, linestyle=(0, (5, 3)), zorder=4)
line(ax2, p2_fit_x, p2_fit_y, color="black", lw=2.0, zorder=5)

for ax, t, yl, xl in zip([ax1, ax2], titles, ylabels, xlabels):
    ax.set_xlim(-5, 7)
    ax.set_ylim(-15, 15)
    ax.set_xticks(x_ticks)
    ax.set_yticks(y_ticks)
    for s in ["top", "right"]:
        ax.spines[s].set_visible(False)
    for s in ["left", "bottom"]:
        ax.spines[s].set_color(AXC)
        ax.spines[s].set_linewidth(0.9)
    ax.tick_params(direction="in", length=4, width=0.8, color=AXC, labelcolor=TXT,
                   labelsize=14.5, left=True, bottom=True)
    ax.tick_params(axis="x", pad=8)
    ax.tick_params(axis="y", pad=6)
    ax.set_title(t, fontsize=15, fontweight="bold", color="black", pad=7)
    ax.set_xlabel(xl, fontsize=18, color=TXT, labelpad=0)
    ax.set_ylabel(yl, fontsize=18, color=TXT, rotation=0, va="center", ha="center")
    ax.yaxis.set_label_coords(-0.088, 0.54)
    ax.grid(False)

fig.savefig("out.png", dpi=100, facecolor="white")
